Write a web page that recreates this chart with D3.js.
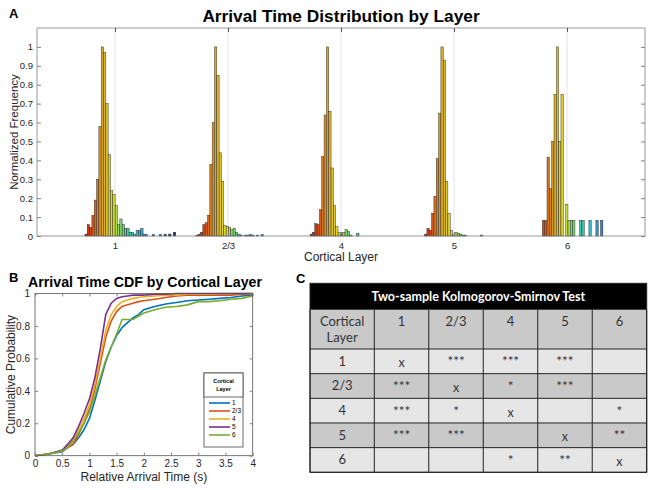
<!DOCTYPE html>
<html>
<head>
<meta charset="utf-8">
<script src="https://cdn.jsdelivr.net/npm/d3@7"></script>
<style>
  body { margin: 0; background: #fff; }
  svg { display: block; font-family: "Liberation Sans", Arial, sans-serif; }
</style>
</head>
<body>
<div id="chart"></div>
<script>
// ---- data: panel A, normalized arrival-time histograms per layer ----
const layers = ["1", "2/3", "4", "5", "6"];
const binWidth = 0.0206;                              // bin width in layer units
const binStart = [-0.256, -0.274, -0.263, -0.250, -0.208]; // first bin offset from layer tick
const freqL1 = [0.01, 0.06, 0.045, 0.11, 0.19, 0.30, 0.58, 1.0, 0.97, 0.70,
                0.43, 0.24, 0.22, 0.16, 0.06, 0.09, 0.06, 0.04, 0.04, 0.02,
                0.02, 0.01, 0.03, 0.03, 0.04, 0.01, 0.007, 0, 0, 0.007,
                0, 0, 0.007, 0, 0.01, 0, 0.01, 0, 0.02];
const freqL23 = [0.005, 0.01, 0.02, 0.06, 0.07, 0.11, 0.38, 0.60, 1.0, 0.85,
                 0.44, 0.29, 0.055, 0.05, 0.045, 0.035, 0.04, 0.02, 0.01, 0.005,
                 0, 0.005, 0.005, 0.007, 0.005, 0, 0.005, 0, 0.007];
const freqL4 = [0.01, 0.02, 0.065, 0.06, 0.14, 0.42, 0.64, 1.0, 0.66, 0.36,
                0.16, 0.05, 0.02, 0.01, 0.02, 0.035, 0.025, 0.005, 0, 0, 0.015];
const freqL5 = [0.01, 0.04, 0.03, 0.12, 0.21, 0.41, 0.65, 1.0, 0.93, 0.29,
                0.12, 0.03, 0.01, 0.02, 0.015, 0.01, 0.005, 0.005, 0, 0,
                0, 0, 0, 0, 0.005];
const freqL6 = [0.083, 0.083, 0.417, 0.25, 0.5, 0.75, 1.0, 0.5, 0.75, 0,
                0.167, 0.083, 0.083, 0.083, 0, 0, 0.083, 0.083, 0, 0,
                0.083, 0, 0, 0.083, 0, 0.083];
const freqTicks = [0, 0.1, 0.2, 0.3, 0.4, 0.5, 0.6, 0.7, 0.8, 0.9, 1];

// ---- data: panel B, cumulative distributions ----
const cdfTime = [0, 0.25, 0.5, 0.6, 0.7, 0.8, 0.9, 1.0, 1.1, 1.2, 1.3, 1.4, 1.5, 1.6,
                 1.7, 1.8, 1.9, 2.0, 2.2, 2.4, 2.6, 2.8, 3.0, 3.2, 3.4, 3.6, 3.8, 4.0];
const cdfL1 = [0, 0.01, 0.025, 0.05, 0.07, 0.11, 0.16, 0.23, 0.34, 0.46, 0.58, 0.67, 0.74, 0.79,
               0.82, 0.85, 0.87, 0.90, 0.92, 0.935, 0.945, 0.955, 0.96, 0.965, 0.97, 0.975, 0.985, 0.99];
const cdfL23 = [0, 0.01, 0.03, 0.05, 0.07, 0.13, 0.20, 0.29, 0.41, 0.57, 0.73, 0.83, 0.89, 0.92,
                0.93, 0.94, 0.95, 0.955, 0.965, 0.975, 0.985, 0.99, 0.99, 0.99, 0.99, 0.99, 0.995, 0.995];
const cdfL4 = [0, 0.01, 0.03, 0.06, 0.10, 0.16, 0.23, 0.31, 0.44, 0.60, 0.77, 0.87, 0.92, 0.95,
               0.96, 0.97, 0.975, 0.98, 0.985, 0.99, 0.99, 0.995, 0.995, 0.995, 1, 1, 1, 1];
const cdfL5 = [0, 0.01, 0.035, 0.07, 0.11, 0.18, 0.26, 0.35, 0.48, 0.66, 0.87, 0.94, 0.97, 0.98,
               0.985, 0.99, 0.99, 0.99, 0.995, 0.995, 1, 1, 1, 1, 1, 1, 1, 1];
const cdfL6 = [0, 0.01, 0.03, 0.05, 0.09, 0.14, 0.20, 0.27, 0.37, 0.48, 0.59, 0.67, 0.75, 0.84,
               0.84, 0.84, 0.86, 0.88, 0.90, 0.915, 0.92, 0.93, 0.95, 0.95, 0.955, 0.965, 0.97, 0.985];
const cdfTicksX = [0, 0.5, 1, 1.5, 2, 2.5, 3, 3.5, 4];
const cdfTicksY = [0, 0.2, 0.4, 0.6, 0.8, 1];

// ---- data: panel C, KS test table ----
const ksTitle = "Two-sample Kolmogorov-Smirnov Test";
const ksRows = [
  ["x", "***", "***", "***", ""],
  ["***", "x", "*", "***", ""],
  ["***", "*", "x", "", "*"],
  ["***", "***", "", "x", "**"],
  ["", "", "*", "**", "x"]
];

const freqs = [freqL1, freqL23, freqL4, freqL5, freqL6];
const cdfs = [cdfL1, cdfL23, cdfL4, cdfL5, cdfL6];
const cdfColors = ["#0072BD", "#D95319", "#EDB120", "#7E2F8E", "#77AC30"];

const width = 654, height = 490;
const svg = d3.select("#chart").append("svg")
    .attr("width", width).attr("height", height)
    .attr("viewBox", [0, 0, width, height]);

const axisColor = "#808080", textColor = "#262626";

function styleAxis(g, showText) {
  g.select(".domain").remove();
  g.selectAll(".tick line").attr("stroke", axisColor);
  g.selectAll(".tick text").attr("fill", textColor);
  if (!showText) g.selectAll(".tick text").remove();
}

// ================= Panel A =================
const A = {left: 37, right: 645, top: 28, bottom: 236};
const xA = d3.scaleLinear().domain([0.31, 5.69]).range([A.left, A.right]);
const yA = d3.scaleLinear().domain([0, 1.1]).range([A.bottom, A.top]);

// colour follows arrival time (offset from layer tick), reversed jet
const binColor = d3.scaleLinear()
    .domain([-0.27, -0.23, -0.18, -0.14, -0.11, -0.07, -0.03, 0, 0.05, 0.12, 0.2, 0.3, 0.4, 0.55])
    .range(["#a31a08", "#cf3510", "#d6601a", "#d98a1f", "#d9a825", "#e0c42a", "#e2d82c",
            "#c5de3c", "#7fd46a", "#3ccfa4", "#36bcd0", "#2f7fcf", "#2a4aa8", "#14145e"])
    .clamp(true);

// vertical grid at each layer
svg.append("g")
  .selectAll("line")
  .data(layers)
  .join("line")
    .attr("x1", (d, i) => xA(i + 1)).attr("x2", (d, i) => xA(i + 1))
    .attr("y1", A.top).attr("y2", A.bottom)
    .attr("stroke", "#dcdcdc").attr("stroke-width", 0.8);

const bars = [];
freqs.forEach((vals, li) => {
  vals.forEach((v, bi) => {
    if (v > 0) bars.push({layer: li + 1, off: binStart[li] + bi * binWidth, v});
  });
});

const bw = xA(binWidth) - xA(0);
svg.append("g")
  .selectAll("rect")
  .data(bars)
  .join("rect")
    .attr("x", d => xA(d.layer + d.off) - bw / 2)
    .attr("width", bw)
    .attr("y", d => yA(d.v))
    .attr("height", d => yA(0) - yA(d.v))
    .attr("fill", d => binColor(d.off))
    .attr("stroke", "#2a2a2a")
    .attr("stroke-width", 0.45);

// frame + axes
svg.append("rect")
    .attr("x", A.left).attr("y", A.top)
    .attr("width", A.right - A.left).attr("height", A.bottom - A.top)
    .attr("fill", "none").attr("stroke", axisColor).attr("stroke-width", 0.8);

svg.append("g")
    .attr("transform", `translate(${A.left},0)`)
    .call(d3.axisLeft(yA).tickValues(freqTicks).tickFormat(d3.format("~g")).tickSize(-4).tickPadding(4))
    .call(g => styleAxis(g, true))
    .selectAll("text").attr("font-size", 9.5);

svg.append("g")
    .attr("transform", `translate(${A.right},0)`)
    .call(d3.axisRight(yA).tickValues(freqTicks).tickSize(-4))
    .call(g => styleAxis(g, false));

svg.append("g")
    .attr("transform", `translate(0,${A.top})`)
    .call(d3.axisTop(xA).tickValues([1, 2, 3, 4, 5]).tickSize(-4))
    .call(g => styleAxis(g, false))
    .selectAll(".tick line").attr("stroke", "#555");

svg.append("g")
    .attr("transform", `translate(0,${A.bottom})`)
    .call(d3.axisBottom(xA).tickValues([1, 2, 3, 4, 5]).tickFormat((d, i) => layers[i]).tickSize(-4).tickPadding(6))
    .call(g => styleAxis(g, true))
    .selectAll("text").attr("font-size", 9.5);

svg.append("text")
    .attr("x", (A.left + A.right) / 2).attr("y", 22)
    .attr("text-anchor", "middle").attr("font-weight", "bold").attr("font-size", 17.3)
    .text("Arrival Time Distribution by Layer");

svg.append("text")
    .attr("x", (A.left + A.right) / 2).attr("y", 261)
    .attr("text-anchor", "middle").attr("font-size", 12).attr("fill", textColor)
    .text("Cortical Layer");

svg.append("text")
    .attr("transform", `translate(18,${(A.top + A.bottom) / 2}) rotate(-90)`)
    .attr("text-anchor", "middle").attr("font-size", 11.5).attr("fill", textColor)
    .text("Normalized Frequency");

svg.append("text")
    .attr("x", 9).attr("y", 18)
    .attr("font-weight", "bold").attr("font-size", 13).text("A");

// ================= Panel B =================
const B = {left: 35, right: 252.7, top: 293.5, bottom: 455.7};
const xB = d3.scaleLinear().domain([0, 4]).range([B.left, B.right]);
const yB = d3.scaleLinear().domain([0, 1]).range([B.bottom, B.top]);

const line = d3.line()
    .x((d, i) => xB(cdfTime[i]))
    .y(d => yB(d));

svg.append("g")
  .selectAll("path")
  .data(cdfs)
  .join("path")
    .attr("d", d => line(d))
    .attr("fill", "none")
    .attr("stroke", (d, i) => cdfColors[i])
    .attr("stroke-width", 1.6);

svg.append("rect")
    .attr("x", B.left).attr("y", B.top)
    .attr("width", B.right - B.left).attr("height", B.bottom - B.top)
    .attr("fill", "none").attr("stroke", "#555").attr("stroke-width", 0.8);

svg.append("g")
    .attr("transform", `translate(${B.left},0)`)
    .call(d3.axisLeft(yB).tickValues(cdfTicksY).tickFormat(d3.format("~g")).tickSize(-3).tickPadding(5))
    .call(g => styleAxis(g, true))
    .selectAll("text").attr("font-size", 10);

svg.append("g")
    .attr("transform", `translate(0,${B.bottom})`)
    .call(d3.axisBottom(xB).tickValues(cdfTicksX).tickFormat(d3.format("~g")).tickSize(-3).tickPadding(4))
    .call(g => styleAxis(g, true))
    .selectAll("text").attr("font-size", 10);

svg.append("g")
    .attr("transform", `translate(${B.right},0)`)
    .call(d3.axisRight(yB).tickValues(cdfTicksY).tickSize(-3))
    .call(g => styleAxis(g, false));

svg.append("g")
    .attr("transform", `translate(0,${B.top})`)
    .call(d3.axisTop(xB).tickValues(cdfTicksX).tickSize(-3))
    .call(g => styleAxis(g, false));

svg.append("text")
    .attr("x", 145).attr("y", 286.5)
    .attr("text-anchor", "middle").attr("font-weight", "bold").attr("font-size", 14.2)
    .text("Arrival Time CDF by Cortical Layer");

svg.append("text")
    .attr("x", (B.left + B.right) / 2).attr("y", 481)
    .attr("text-anchor", "middle").attr("font-size", 12).attr("fill", textColor)
    .text("Relative Arrival Time (s)");

svg.append("text")
    .attr("transform", `translate(15,${(B.top + B.bottom) / 2}) rotate(-90)`)
    .attr("text-anchor", "middle").attr("font-size", 12).attr("fill", textColor)
    .text("Cumulative Probability");

svg.append("text")
    .attr("x", 9).attr("y", 282)
    .attr("font-weight", "bold").attr("font-size", 13).text("B");

// legend
const leg = svg.append("g").attr("transform", "translate(204,373)");
leg.append("rect").attr("width", 39).attr("height", 74)
    .attr("fill", "#fff").attr("stroke", "#444").attr("stroke-width", 0.8);
leg.append("rect").attr("width", 39).attr("height", 24)
    .attr("fill", "#fff").attr("stroke", "#444").attr("stroke-width", 0.8);
leg.append("text").attr("x", 19.5).attr("y", 10).attr("text-anchor", "middle")
    .attr("font-size", 5.5).attr("font-weight", "bold").text("Cortical");
leg.append("text").attr("x", 19.5).attr("y", 18).attr("text-anchor", "middle")
    .attr("font-size", 5.5).attr("font-weight", "bold").text("Layer");
const legItem = leg.selectAll(".item")
  .data(layers)
  .join("g")
    .attr("class", "item")
    .attr("transform", (d, i) => `translate(0,${30 + i * 8})`);
legItem.append("line")
    .attr("x1", 5).attr("x2", 26)
    .attr("stroke", (d, i) => cdfColors[i]).attr("stroke-width", 1.6);
legItem.append("text")
    .attr("x", 28).attr("y", 2.3).attr("font-size", 6.5).text(d => d);

// ================= Panel C =================
const C = {left: 310, right: 646.7, top: 283.3, titleBottom: 309.3, headBottom: 349, bottom: 472.3};
const labelColRight = 374.3;
const xC = d3.scaleBand().domain(layers).range([labelColRight, C.right]);
const yC = d3.scaleBand().domain(layers).range([C.headBottom, C.bottom]);
const tableFont = "Lato, 'Open Sans', sans-serif";

svg.append("text")
    .attr("x", 296).attr("y", 283)
    .attr("font-weight", "bold").attr("font-size", 13).text("C");

const table = svg.append("g").attr("font-family", tableFont);

// title bar
table.append("rect")
    .attr("x", C.left).attr("y", C.top)
    .attr("width", C.right - C.left).attr("height", C.titleBottom - C.top)
    .attr("fill", "#000");
table.append("text")
    .attr("x", (C.left + C.right) / 2).attr("y", 300.5)
    .attr("text-anchor", "middle").attr("fill", "#fff")
    .attr("font-weight", "bold").attr("font-size", 12.5)
    .text(ksTitle);

// header row
table.append("rect")
    .attr("x", C.left).attr("y", C.titleBottom)
    .attr("width", C.right - C.left).attr("height", C.headBottom - C.titleBottom)
    .attr("fill", "#c9c9c9");

// body rows (alternating shade)
table.append("g")
  .selectAll("rect")
  .data(layers)
  .join("rect")
    .attr("x", C.left).attr("y", d => yC(d))
    .attr("width", C.right - C.left).attr("height", yC.bandwidth())
    .attr("fill", (d, i) => i % 2 === 0 ? "#e6e6e6" : "#c9c9c9");

// grid lines
const hLines = [C.titleBottom, C.headBottom, ...layers.map(d => yC(d) + yC.bandwidth())];
table.append("g")
  .selectAll("line")
  .data(hLines)
  .join("line")
    .attr("x1", C.left).attr("x2", C.right)
    .attr("y1", d => d).attr("y2", d => d)
    .attr("stroke", "#222").attr("stroke-width", 1);
const vLines = [C.left, labelColRight, ...layers.map(d => xC(d) + xC.bandwidth())];
table.append("g")
  .selectAll("line")
  .data(vLines)
  .join("line")
    .attr("x1", d => d).attr("x2", d => d)
    .attr("y1", C.titleBottom).attr("y2", C.bottom)
    .attr("stroke", "#222").attr("stroke-width", 1);
table.append("rect")
    .attr("x", C.left).attr("y", C.top)
    .attr("width", C.right - C.left).attr("height", C.bottom - C.top)
    .attr("fill", "none").attr("stroke", "#222").attr("stroke-width", 1);

// header labels
const labelX = (C.left + labelColRight) / 2;
table.append("text").attr("x", labelX).attr("y", 326)
    .attr("text-anchor", "middle").attr("font-size", 13).attr("fill", "#333").text("Cortical");
table.append("text").attr("x", labelX).attr("y", 342)
    .attr("text-anchor", "middle").attr("font-size", 13).attr("fill", "#333").text("Layer");
table.append("g")
  .selectAll("text")
  .data(layers)
  .join("text")
    .attr("x", d => xC(d) + xC.bandwidth() / 2).attr("y", 326)
    .attr("text-anchor", "middle").attr("font-size", 13).attr("fill", "#333")
    .text(d => d);

// row labels
table.append("g")
  .selectAll("text")
  .data(layers)
  .join("text")
    .attr("x", labelX).attr("y", d => yC(d) + yC.bandwidth() / 2 + 4.5)
    .attr("text-anchor", "middle").attr("font-size", 13).attr("fill", "#333")
    .text(d => d);

// cells
const cells = [];
ksRows.forEach((row, ri) => row.forEach((v, ci) => {
  if (v) cells.push({r: layers[ri], c: layers[ci], v});
}));
table.append("g")
  .selectAll("text")
  .data(cells)
  .join("text")
    .attr("x", d => xC(d.c) + xC.bandwidth() / 2)
    .attr("y", d => yC(d.r) + yC.bandwidth() / 2 + (d.v === "x" ? 6 : 5))
    .attr("text-anchor", "middle")
    .attr("font-size", d => d.v === "x" ? 12.5 : 13.5)
    .attr("fill", "#333")
    .text(d => d.v);
</script>
</body>
</html>
